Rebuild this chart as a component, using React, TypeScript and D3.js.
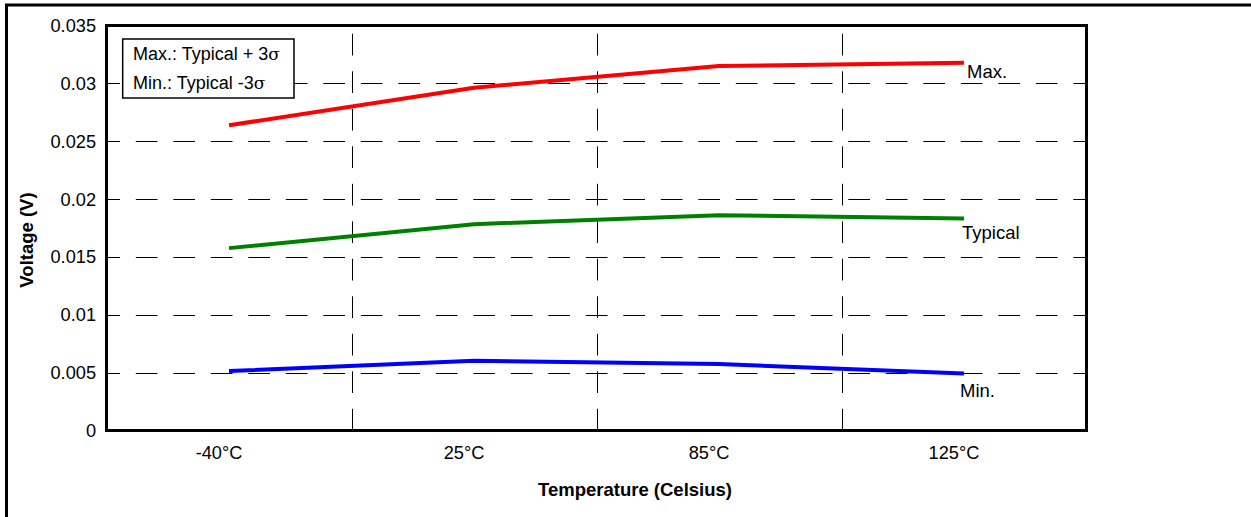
import React from "react";
import * as d3 from "d3";

const categories = ["-40°C", "25°C", "85°C", "125°C"];
const maxValues = [0.02638, 0.02962, 0.0315, 0.03178];
const typicalValues = [0.01576, 0.01783, 0.01861, 0.01832];
const minValues = [0.00514, 0.00603, 0.00574, 0.00492];
const seriesNames = ["Max.", "Typical", "Min."];
const yTicks = [0, 0.005, 0.01, 0.015, 0.02, 0.025, 0.03, 0.035];
const legendLines = ["Max.: Typical + 3", "Min.: Typical -3"];

const W = 1251;
const H = 517;
const FONT = "'Liberation Sans', Arial, Helvetica, sans-serif";

export default function App() {
  const left = 106.5, right = 1086.5, top = 25.5, bottom = 430.5;
  const x = d3.scaleBand<string>().domain(categories).range([left, right]).padding(0);
  const y = d3.scaleLinear().domain([0, 0.035]).range([bottom, top]);
  const cx = (c: string) => (x(c) as number) + x.bandwidth() / 2;

  const seriesData = [maxValues, typicalValues, minValues];
  const colors = ["#ff0000", "#008000", "#0000ff"];
  const labelOffsets = [
    [3, 15],
    [-2, 20],
    [-4, 23],
  ];
  const line = d3
    .line<number>()
    .x((_, i) => cx(categories[i]))
    .y((d) => y(d));

  const fmt = d3.format("~g");
  const boundaries = categories.slice(1).map((c) => x(c) as number);

  return (
    <svg
      width={W}
      height={H}
      style={{ position: "fixed", left: 0, top: 0, background: "#fff" }}
      fontFamily={FONT}
    >
      <rect x={0} y={0} width={W} height={H} fill="#fff" />
      {/* outer frame */}
      <rect x={6.5} y={5} width={1400} height={700} fill="none" stroke="#000" strokeWidth={3} />

      {/* horizontal grid */}
      {yTicks.slice(1, -1).map((t) => (
        <line
          key={"h" + t}
          x1={left}
          x2={right}
          y1={Math.round(y(t)) + 0.5}
          y2={Math.round(y(t)) + 0.5}
          stroke="#000"
          strokeWidth={1}
          strokeDasharray="21.7 15.8"
          strokeDashoffset={8.2}
        />
      ))}
      {/* vertical grid */}
      {boundaries.map((b) => (
        <line
          key={"v" + b}
          x1={Math.round(b) + 0.5}
          x2={Math.round(b) + 0.5}
          y1={bottom}
          y2={top}
          stroke="#000"
          strokeWidth={1}
          strokeDasharray="21.7 15.8"
          strokeDashoffset={0}
        />
      ))}

      {/* series lines */}
      {seriesData.map((s, i) => (
        <path key={"s" + i} d={line(s) || ""} fill="none" stroke={colors[i]} strokeWidth={4} strokeLinejoin="round" />
      ))}

      {/* series labels */}
      {seriesData.map((s, i) => (
        <text
          key={"l" + i}
          x={cx(categories[categories.length - 1]) + labelOffsets[i][0]}
          y={y(s[s.length - 1]) + labelOffsets[i][1]}
          fontSize={18.5}
          fill="#000"
        >
          {seriesNames[i]}
        </text>
      ))}

      {/* plot border */}
      <rect x={left} y={top} width={right - left} height={bottom - top} fill="none" stroke="#000" strokeWidth={3} />

      {/* legend */}
      <rect x={122.7} y={39} width={171.3} height={59} fill="#fff" stroke="#000" strokeWidth={1.5} />
      {legendLines.map((t, i) => (
        <text key={"lg" + i} x={133} y={59.5 + i * 29} fontSize={18} fill="#000">
          {t}
          <tspan fontFamily="'DejaVu Serif', 'Liberation Serif', serif" fontSize={17}>σ</tspan>
        </text>
      ))}

      {/* y tick labels */}
      {yTicks.map((t) => (
        <text key={"yt" + t} x={96} y={y(t)} dy="0.36em" textAnchor="end" fontSize={18.2}>
          {fmt(t)}
        </text>
      ))}

      {/* x tick labels */}
      {categories.map((c) => (
        <text key={"xt" + c} x={cx(c) - 10} y={458.5} textAnchor="middle" fontSize={18.2}>
          {c}
        </text>
      ))}

      {/* axis titles */}
      <text x={635} y={496} textAnchor="middle" fontSize={18.5} fontWeight="bold">
        Temperature (Celsius)
      </text>
      <text
        transform="translate(33,240) rotate(-90)"
        textAnchor="middle"
        fontSize={18.5}
        fontWeight="bold"
      >
        Voltage (V)
      </text>
    </svg>
  );
}
